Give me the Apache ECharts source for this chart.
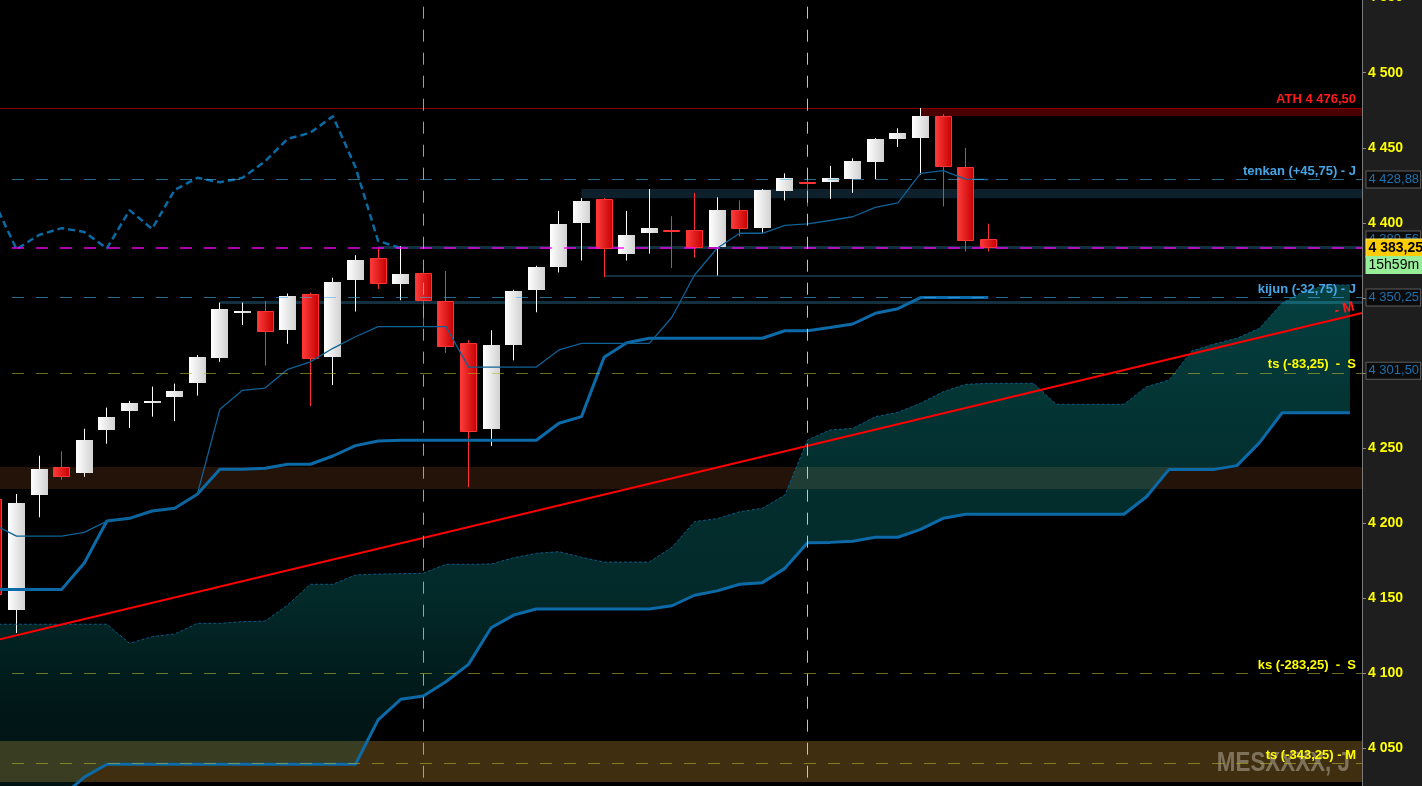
<!DOCTYPE html>
<html><head><meta charset="utf-8">
<script src="https://cdn.jsdelivr.net/npm/echarts@6/dist/echarts.min.js"></script>
<style>html,body{margin:0;padding:0;background:#000;overflow:hidden}#c{width:1422px;height:786px}</style>
</head><body><div id="c"></div>
<script>
// ---------------- DATA ----------------
const firstIndex = -1; // index of the first (partly hidden) candle
const openP  = [4216,4142,4219,4237.5,4233.5,4262,4275,4281,4284,4293.5,4310,4341,4341.5,4328.5,4352.5,4310.5,4362,4376.5,4359.5,4366.5,4348,4320,4263,4318.5,4355.5,4370.5,4400,4416,4379.5,4393.5,4395,4395,4384,4408.5,4396.5,4421,4427.5,4427,4429,4440.5,4456,4456.5,4471,4437,4389.5];
const highP  = [4222,4219.5,4245,4248,4263,4277,4281.5,4291,4293,4312,4347,4347,4348,4353,4353.5,4363.5,4378.5,4383,4384.5,4370,4368,4322,4328.5,4355.5,4371.5,4408,4416.5,4416.5,4408,4422.5,4404.5,4420,4417,4415,4422.5,4433,4432,4438,4443,4456.5,4463,4476.5,4472.5,4450,4399.5];
const lowP   = [4148,4127,4204,4229,4231,4253,4263.5,4271,4268,4285,4307.5,4332,4305,4319.5,4278,4292,4341,4356,4348.5,4331,4313.5,4224,4251.5,4308.5,4340.5,4367,4375,4364,4375,4379.5,4370,4377,4365,4391,4393.5,4415,4411,4416,4420,4429,4450.5,4432,4411,4381,4381];
const closeP = [4152,4213.5,4236,4230.5,4255.5,4271,4280,4281.5,4288,4310.5,4343,4341.5,4327.5,4351.5,4309.5,4360.5,4375.5,4359,4366,4348,4317.5,4260.5,4318.5,4354.5,4370.5,4399.5,4414.5,4382.5,4392,4396.5,4394,4383,4408.5,4396,4422,4430,4427,4430,4441,4456,4460,4471,4437,4388,4383.25];

const tenkanVals = [4199,4191.5,4191.5,4191.5,4194,4201.5,4203.3,4208.2,4210,4219.3,4276,4288.5,4290,4302.5,4307.5,4316.5,4324.2,4331,4331,4331,4331,4304,4304,4304,4304,4315.4,4319.8,4319.8,4319.8,4319.8,4337.2,4365.3,4383.1,4393.1,4393.1,4398.4,4399.3,4401.6,4404.1,4410.4,4413.4,4433,4434.8,4429.2,4428.88];
const kijunVals  = [4156,4156,4156,4156,4173.6,4201.5,4203.3,4208.2,4210,4219.3,4236,4236,4236.6,4239.3,4239.3,4244.8,4251.7,4254.8,4255.3,4255.3,4255.3,4255.3,4255.3,4255.3,4255.3,4266.6,4271,4310.5,4320.2,4323.2,4323.2,4323.2,4323.2,4323.2,4323.2,4328.2,4328.2,4330.4,4332.7,4339.8,4342.9,4350.25,4350.25,4350.25,4350.25];
const chikouVals = [4414.5,4382.5,4392,4396.5,4394,4383,4408.5,4396,4422,4430,4427,4430,4441,4456,4460,4471,4437,4388,4383.25];
const spanAVals  = [4132.8,4132.8,4132.8,4132.8,4132.8,4132.8,4120.1,4124.5,4126.3,4133.4,4133.4,4134.5,4134.9,4145.6,4159.4,4159.4,4165.6,4166.2,4166.4,4166.7,4172.7,4172.7,4172.9,4177.1,4180,4181.1,4177.4,4174.2,4174.2,4174.2,4184,4201.1,4203.1,4207.7,4210,4218.8,4255.5,4262.1,4263.2,4271,4273.9,4279.9,4287.6,4292.5,4293.2,4293.2,4293.2,4279.2,4279.2,4279.2,4279.2,4290.9,4295.4,4314.7,4319.4,4323.2,4329.8,4346.7,4354.7,4358.7,4358.7];
const spanBVals  = [3996,4002.5,4009,4018,4031,4039.6,4039.6,4039.6,4039.6,4039.6,4039.6,4039.6,4039.6,4039.6,4039.6,4039.6,4039.6,4069.1,4082.8,4085,4094.5,4106.1,4130.5,4138.9,4142.9,4142.9,4142.9,4142.9,4142.9,4142.9,4145.1,4152.1,4155,4159.4,4160.5,4170,4187.1,4187.3,4188,4190.7,4190.7,4196,4203.3,4206,4206,4206,4206,4206,4206,4206,4206,4217.7,4235.9,4235.9,4235.9,4238.4,4253.7,4273.6,4273.6,4273.6,4273.6];

// trend line end prices (at left and right edge of the plot)
const trendPrices = [4122.8, 4340.0];
// horizontal zones [low, high, fromIndex]
const brownZone = [4222.8, 4237.5];
const oliveZone = [4027.8, 4055];
const navyZone  = [4416.4, 4422.6, 25];
const athZone   = [4471.2, 4476.5, 40];
const athValue  = 4476.5;
// thin dark support lines [price, fromIndex, width]
const supportLines = [[4383.6, 16, 3], [4347.3, 9, 3], [4364.6, 26, 2]];
// vertical markers (candle index)
const verticalMarks = [18, 35];
// price levels with texts
const tenkanLevel = 4428.88, kijunLevel = 4350.25, lastPrice = 4383.25;
const tsSLevel = 4300, ksSLevel = 4100, tsMLevel = 4040;
const levelTexts = ['tenkan (+45,75) - J', 'kijun (-32,75) - J', 'ts (-83,25)  -  S', 'ks (-283,25)  -  S', 'ts (-343,25) - M', 'ATH 4 476,50', '- M'];
const boxValues = [4428.88, 4389.56, 4350.25, 4301.5];
const boxTexts  = ['4 428,88', '4 389,56', '4 350,25', '4 301,50'];
const lastPriceText = '4 383,25', timerText = '15h59m';
const yMin = 4000, yMax = 4550, yInterval = 50;
const watermark = 'MESXXXX, J';

// ---------------- CHART ----------------
const FONT = '"Liberation Sans", Arial, Helvetica, sans-serif';
const xMin = -0.73, xMax = 59.535, levelStart = -0.2;
const chart = echarts.init(document.getElementById('c'), null, {renderer: 'canvas'});

const pts = (vals, start) => vals.map((v, i) => [start + i, v]);
const candleData = openP.map((o, i) => [firstIndex + i, o, highP[i], lowP[i], closeP[i]]);

const whiteGrad = new echarts.graphic.LinearGradient(0, 0, 1, 0, [{offset: 0, color: '#ffffff'}, {offset: 1, color: '#d2d2d2'}]);
const redGrad = new echarts.graphic.LinearGradient(0, 0, 1, 0, [{offset: 0, color: '#ff3d3d'}, {offset: 1, color: '#c40000'}]);
// translucent so that the zones under the cloud shine through
const cloudGrad = new echarts.graphic.LinearGradient(0, 285, 0, 786, [
  {offset: 0, color: 'rgba(20,255,255,0.25)'},
  {offset: 0.38, color: 'rgba(15,230,230,0.2)'},
  {offset: 0.61, color: 'rgba(15,210,210,0.2)'},
  {offset: 0.83, color: 'rgba(12,220,220,0.11)'},
  {offset: 1, color: 'rgba(10,180,180,0.1)'}], true);

function renderCandle(params, api) {
  const k = api.value(0), o = api.value(1), h = api.value(2), l = api.value(3), c = api.value(4);
  const pO = api.coord([k, o]), pC = api.coord([k, c]), pH = api.coord([k, h]), pL = api.coord([k, l]);
  const w = 17;
  const left = Math.round(pO[0] - w / 2);
  const cx = left + 8.5;
  const up = c >= o;
  let top = Math.round(Math.min(pO[1], pC[1])), bot = Math.round(Math.max(pO[1], pC[1]));
  if (bot - top < 2) { bot = top + 2; }
  const col = up ? '#ffffff' : '#ff3030';
  const children = [
    {type: 'line', shape: {x1: cx, y1: pH[1], x2: cx, y2: pL[1]}, style: {stroke: col, lineWidth: 1}}
  ];
  if (up) {
    children.push({type: 'rect', shape: {x: left, y: top, width: w, height: bot - top}, style: {fill: whiteGrad}});
  } else {
    children.push({type: 'rect', shape: {x: left + 0.5, y: top + 0.5, width: w - 1, height: Math.max(1, bot - top - 1)},
      style: {fill: redGrad, stroke: '#ff3333', lineWidth: 1}});
  }
  return {type: 'group', children};
}

function renderCloud(params, api) {
  const p = [];
  for (let i = 0; i < spanAVals.length; i++) p.push(api.coord([firstIndex + i, spanAVals[i]]));
  for (let i = spanBVals.length - 1; i >= 0; i--) p.push(api.coord([firstIndex + i, spanBVals[i]]));
  return {type: 'polygon', shape: {points: p}, style: {fill: cloudGrad}};
}

function seg(fromK, value, lineStyle, label, toK) {
  return [{coord: [fromK, value], lineStyle: lineStyle, label: label || {show: false}},
          {coord: [toK === undefined ? xMax : toK, value]}];
}
function txt(text, color) {
  return {show: true, position: 'insideEndTop', formatter: text, color: color, fontSize: 13,
    fontWeight: 'bold', fontFamily: FONT, distance: [6, 2]};
}
function box(text, extra) {
  return Object.assign({show: true, position: 'end', formatter: text, distance: 4.5, color: '#1f70ad',
    backgroundColor: '#0b0b0b', borderColor: '#5c5c5c', borderWidth: 1, padding: [1, 1, 1, 2],
    fontSize: 13, lineHeight: 14, fontFamily: FONT}, extra || {});
}
const noLine = {color: 'rgba(0,0,0,0)', width: 0};
const blueDash = {color: 'rgba(70,176,233,0.6)', width: 1, type: [12, 12]};
const oliveDash = {color: 'rgba(180,180,45,0.6)', width: 1, type: [12, 12]};

const levelMarks = [
  seg(levelStart, tenkanLevel, blueDash, txt(levelTexts[0], '#45a5e6')),
  seg(levelStart, kijunLevel, blueDash, txt(levelTexts[1], '#45a5e6')),
  seg(levelStart, lastPrice, {color: 'rgba(255,0,255,0.9)', width: 1.5, type: [12, 12]}),
  seg(levelStart, tsSLevel, oliveDash, txt(levelTexts[2], '#ffff00')),
  seg(levelStart, ksSLevel, oliveDash, txt(levelTexts[3], '#ffff00')),
  seg(levelStart, tsMLevel, oliveDash, txt(levelTexts[4], '#ffff00')),
  seg(xMin, athValue, noLine, txt(levelTexts[5], '#ff1a1a')),
  [{coord: [xMin, trendPrices[0]], lineStyle: {color: '#ff0000', width: 2, type: 'solid'},
    label: {show: true, position: 'insideEndTop', formatter: levelTexts[6], color: '#ff1a1a', fontSize: 14,
      fontWeight: 'bold', fontFamily: FONT, distance: [6, 1]}},
   {coord: [xMax, trendPrices[1]]}],
  seg(50, boxValues[0], noLine, box(boxTexts[0])),
  seg(50, boxValues[2], noLine, box(boxTexts[2])),
  seg(50, boxValues[3], noLine, box(boxTexts[3])),
  seg(50, boxValues[1], noLine, box(boxTexts[1], {offset: [0, 1]})),
  seg(50, lastPrice, noLine, box(lastPriceText, {color: '#000', backgroundColor: '#ffcc00', borderColor: '#ffe066',
    fontWeight: 'bold', fontSize: 14, lineHeight: 15, padding: [1, 3, 1, 2]})),
  seg(50, lastPrice, noLine, box(timerText, {color: '#000', backgroundColor: '#98ee98', borderColor: '#98ee98',
    fontSize: 14, lineHeight: 14, padding: [1, 3, 1, 2], offset: [0, 17]})),
  {xAxis: verticalMarks[0], lineStyle: {color: 'rgba(235,120,235,0.95)', width: 1, type: [12, 11]}, label: {show: false}},
  {xAxis: verticalMarks[1], lineStyle: {color: 'rgba(255,205,70,0.95)', width: 1, type: [12, 11]}, label: {show: false}}
];

const option = {
  backgroundColor: '#000',
  animation: false,
  grid: {left: 0, right: 60, top: -2.4, bottom: -37.7, outerBoundsMode: 'none', containLabel: false},
  xAxis: {type: 'value', min: xMin, max: xMax, show: false, splitLine: {show: false}},
  yAxis: {
    type: 'value', position: 'right', min: yMin, max: yMax, interval: yInterval,
    splitLine: {show: false},
    axisLine: {show: true, onZero: false, lineStyle: {color: '#7a7a7a', width: 1}},
    axisTick: {show: true, length: 4, lineStyle: {color: '#8a8a8a'}},
    axisLabel: {color: '#ffff00', fontSize: 14, fontWeight: 'bold', fontFamily: FONT, margin: 6,
      showMinLabel: true, showMaxLabel: true,
      formatter: v => { const s = String(v); return s.slice(0, s.length - 3) + ' ' + s.slice(-3); }}
  },
  graphic: [
    {type: 'rect', right: 0, top: 0, z: -10, shape: {width: 60, height: 786}, style: {fill: '#1e1e1e'}},
    {type: 'text', x: 1350, y: 777, z: 2.5, scaleX: 0.8, style: {text: watermark,
      font: 'bold 28px "Liberation Sans", Arial, sans-serif', align: 'right', verticalAlign: 'bottom',
      fill: 'rgba(170,160,145,0.6)'}}
  ],
  series: [
    {
      name: 'zones', type: 'line', data: [], z: 1, silent: true,
      markArea: {silent: true, z: 1, data: [
        [{coord: [xMin, brownZone[1]], itemStyle: {color: '#241308'}}, {coord: [xMax, brownZone[0]]}],
        [{coord: [xMin, oliveZone[1]], itemStyle: {color: '#3f2e10'}}, {coord: [xMax, oliveZone[0]]}],
        [{coord: [navyZone[2], navyZone[1]], itemStyle: {color: '#0d202c'}}, {coord: [xMax, navyZone[0]]}],
        [{coord: [athZone[2], athZone[1]], itemStyle: {color: '#4a0000'}}, {coord: [xMax, athZone[0]]}]
      ]},
      markLine: {silent: true, symbol: ['none', 'none'], z: 1.5, animation: false, data: [
        seg(xMin, athValue, {color: '#8b0000', width: 1, type: 'solid'}),
        ...supportLines.map(s => seg(s[1], s[0], {color: '#14303f', width: s[2], type: 'solid'}))
      ]}
    },
    {name: 'cloud', type: 'custom', z: 2, silent: true, data: [[0, 0]], encode: {x: 0, y: 1}, renderItem: renderCloud},
    {name: 'spanA', type: 'line', z: 3, silent: true, showSymbol: false, symbol: 'none', data: pts(spanAVals, firstIndex),
      lineStyle: {color: '#0b5a88', width: 1, type: [3, 2]}},
    {name: 'spanB', type: 'line', z: 3, silent: true, showSymbol: false, symbol: 'none', data: pts(spanBVals, firstIndex),
      lineStyle: {color: '#0b6aa7', width: 3}},
    {name: 'candles', type: 'custom', z: 3, silent: true, data: candleData, encode: {x: 0, y: [1, 2, 3, 4]}, renderItem: renderCandle},
    {name: 'kijun', type: 'line', z: 4, silent: true, showSymbol: false, symbol: 'none', data: pts(kijunVals, firstIndex),
      lineStyle: {color: '#0b6aa7', width: 3}},
    {name: 'tenkan', type: 'line', z: 4, silent: true, showSymbol: false, symbol: 'none', data: pts(tenkanVals, firstIndex),
      lineStyle: {color: '#0f6196', width: 1.3}},
    {name: 'chikou', type: 'line', z: 4, silent: true, showSymbol: false, symbol: 'none', data: pts(chikouVals, firstIndex),
      lineStyle: {color: '#0a6aa3', width: 2.5, type: [7, 4]}},
    {
      name: 'levels', type: 'line', data: [], z: 6, silent: true,
      markLine: {silent: true, symbol: ['none', 'none'], z: 6, animation: false, data: levelMarks}
    }
  ]
};
chart.setOption(option);
</script>
</body></html>
